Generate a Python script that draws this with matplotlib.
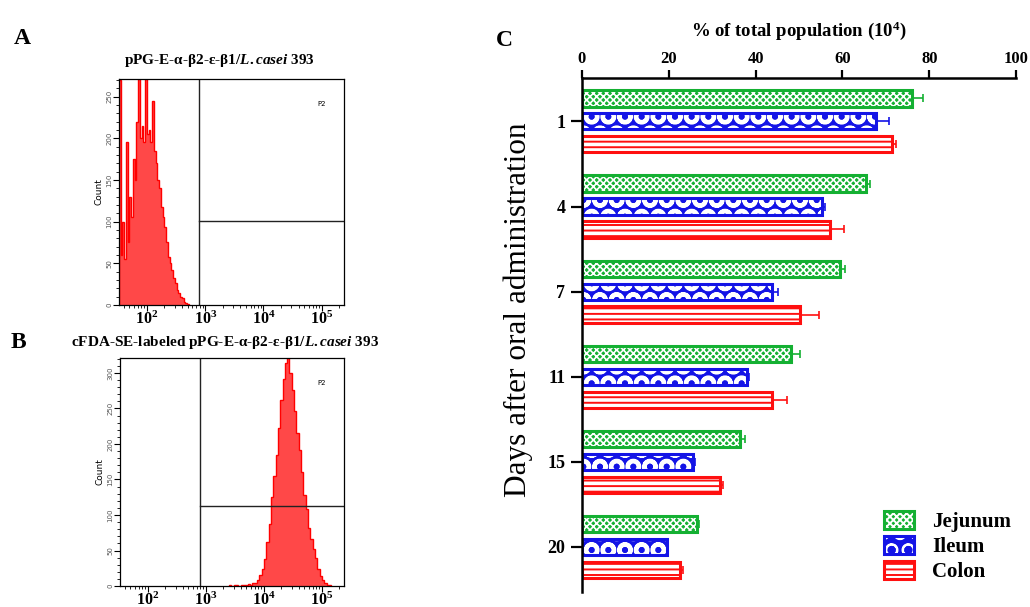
import numpy as np
import matplotlib.pyplot as plt
from matplotlib.patches import Patch
from matplotlib.legend_handler import HandlerTuple
from matplotlib.ticker import FixedLocator, MultipleLocator, LogLocator, FuncFormatter, NullFormatter

plt.rcParams['font.family'] = ['Liberation Serif', 'DejaVu Serif']
plt.rcParams['mathtext.fontset'] = 'custom'
plt.rcParams['mathtext.rm'] = 'Liberation Serif:bold'
plt.rcParams['mathtext.it'] = 'Liberation Serif:italic:bold'
plt.rcParams['mathtext.bf'] = 'Liberation Serif:bold'
plt.rcParams['hatch.linewidth'] = 1.4

# panel C: bar data
days = ['1', '4', '7', '11', '15', '20']
jejunum = [76.0, 65.4, 59.4, 48.1, 36.3, 26.4]
jejunum_err = [2.5, 1.0, 1.1, 2.2, 1.3, 0.5]
ileum = [67.8, 55.4, 43.7, 38.0, 25.6, 19.5]
ileum_err = [3.0, 0.5, 1.5, 0.5, 0.4, 0.4]
colon = [71.4, 57.2, 50.3, 43.7, 31.8, 22.6]
colon_err = [1.0, 3.2, 4.2, 3.5, 0.6, 0.6]

# panel A: histogram counts, log10 bins starting at 1.52, width 0.03
a_start, a_step = 1.52, 0.03
a_counts = [270, 60, 100, 55, 195, 75, 130, 105, 175, 150,
            220, 272, 200, 215, 195, 272, 205, 210, 195, 245,
            185, 170, 150, 140, 117, 105, 93, 75, 58, 50,
            42, 32, 26, 18, 14, 10, 8, 4, 2, 1]
a_gate_x, a_gate_y = 10 ** 2.89, 101

# panel B: histogram counts, log10 bins starting at 3.40, width 0.04
b_start, b_step = 3.40, 0.04
b_counts = [1, 0, 2, 1, 0, 1, 2, 1, 3, 2,
            4, 5, 8, 15, 24, 38, 62, 88, 125, 155,
            185, 222, 262, 292, 314, 322, 300, 276, 246, 216,
            192, 160, 128, 108, 82, 66, 52, 40, 24, 14,
            9, 5, 2, 1]
b_low_counts = [30]
b_gate_x, b_gate_y = 10 ** 2.90, 112

fig = plt.figure(figsize=(10.3, 6.07), dpi=100)

xlo, xhi = 10 ** 1.52, 10 ** 5.38


def flow_panel(rect, counts, start, step, ymax, ystep, gate_x, gate_y):
    ax = fig.add_axes(rect)
    edges = 10 ** (start + step * np.arange(len(counts) + 1))
    ax.stairs(counts, edges, fill=True, color='#ff4848', baseline=0)
    ax.stairs(counts, edges, color='red', lw=1.0, baseline=0)
    ax.set_xscale('log')
    ax.set_xlim(xlo, xhi)
    ax.set_ylim(0, ymax)
    ax.axvline(gate_x, color='#222222', lw=1.0)
    ax.plot([gate_x, xhi], [gate_y, gate_y], color='#222222', lw=1.0)
    ax.xaxis.set_major_locator(FixedLocator([1e2, 1e3, 1e4, 1e5]))
    ax.xaxis.set_major_formatter(FuncFormatter(lambda v, p: r'$10^{%d}$' % round(np.log10(v))))
    ax.xaxis.set_minor_locator(LogLocator(base=10, subs=np.arange(2, 10)))
    ax.xaxis.set_minor_formatter(NullFormatter())
    ax.yaxis.set_major_locator(MultipleLocator(ystep))
    ax.yaxis.set_minor_locator(MultipleLocator(10))
    ax.tick_params(axis='x', which='major', labelsize=11.5, length=4, pad=0)
    ax.tick_params(axis='x', which='minor', length=2.5)
    ax.tick_params(axis='y', which='major', labelsize=5, labelrotation=90, length=4,
                   labelcolor='#555555', pad=1)
    ax.tick_params(axis='y', which='minor', length=2)
    for lab in ax.get_yticklabels():
        lab.set_family('DejaVu Sans')
        lab.set_va('center')
    ax.set_ylabel('Count', fontsize=6.5, family='DejaVu Sans', labelpad=2)
    for s in ax.spines.values():
        s.set_linewidth(0.9)
    ax.text(0.90, 0.89, 'P2', transform=ax.transAxes, fontsize=5,
            family='DejaVu Sans', ha='center', va='center')
    return ax


axA = flow_panel([0.1155, 0.4975, 0.2184, 0.3723], a_counts, a_start, a_step,
                 271, 50, a_gate_x, a_gate_y)
axB = flow_panel([0.1165, 0.0345, 0.2175, 0.3757], b_counts, b_start, b_step,
                 321, 50, b_gate_x, b_gate_y)
low_edges = 10 ** np.array([1.52, 1.545])
axB.stairs(b_low_counts, low_edges, fill=True, color='#ff4848', baseline=0)

fig.text(0.2126, 0.900, r'pPG-E-α-β2-ε-β1/$\mathit{L.casei}$ 393', fontsize=11,
         fontweight='bold', ha='center', va='center')
fig.text(0.2180, 0.435, r'cFDA-SE-labeled pPG-E-α-β2-ε-β1/$\mathit{L.casei}$ 393',
         fontsize=11, fontweight='bold', ha='center', va='center')
fig.text(0.022, 0.937, 'A', fontsize=17, fontweight='bold', ha='center', va='center')
fig.text(0.018, 0.435, 'B', fontsize=17, fontweight='bold', ha='center', va='center')
fig.text(0.490, 0.934, 'C', fontsize=17, fontweight='bold', ha='center', va='center')

# panel C
axC = fig.add_axes([0.565, 0.0247, 0.4215, 0.8468])
y = np.arange(len(days))
off, h = 0.27, 0.19
green, blue, red = '#14b032', '#1414e6', '#ff1010'
series = [
    ('Jejunum', jejunum, jejunum_err, green, green, 'white', 'xxxxx', 1.2, -off),
    ('Ileum', ileum, ileum_err, blue, blue, 'white', 'O', 3.0, 0.0),
    ('Colon', colon, colon_err, red, 'white', red, '---', 1.4, off),
]


def set_hatch_lw(patch, lw):
    if hasattr(patch, 'set_hatch_linewidth'):
        patch.set_hatch_linewidth(lw)


handles = []
for name, vals, err, col, face, hcol, hatch, hlw, dy in series:
    bars = axC.barh(y + dy, vals, height=h, color=face, edgecolor=hcol, hatch=hatch, linewidth=0)
    for b in bars:
        set_hatch_lw(b, hlw)
    axC.barh(y + dy, vals, height=h, fill=False, edgecolor=col, linewidth=2.2)
    axC.errorbar(vals, y + dy, xerr=[np.zeros(len(vals)), err], fmt='none',
                 ecolor=col, elinewidth=1.2, capsize=3, capthick=1.2)
    fill_patch = Patch(facecolor=face, edgecolor=hcol, hatch=hatch, linewidth=0)
    set_hatch_lw(fill_patch, hlw)
    handles.append((fill_patch, Patch(fill=False, edgecolor=col, linewidth=2.2)))

axC.set_xlim(0, 100)
axC.set_ylim(len(days) - 0.47, -0.51)
axC.xaxis.tick_top()
axC.xaxis.set_label_position('top')
axC.set_xticks(np.arange(0, 101, 20))
axC.set_yticks(y)
axC.set_yticklabels(days)
for lab in axC.get_xticklabels() + axC.get_yticklabels():
    lab.set_fontweight('bold')
axC.tick_params(axis='x', labelsize=12, width=1.6, length=6, pad=2)
axC.tick_params(axis='y', labelsize=13, width=1.6, length=8, pad=4)
axC.set_xlabel(r'% of total population (10$^4$)', fontsize=13.5, fontweight='bold', labelpad=11)
axC.spines['right'].set_visible(False)
axC.spines['bottom'].set_visible(False)
axC.spines['left'].set_linewidth(1.8)
axC.spines['top'].set_linewidth(1.8)

fig.text(0.503, 0.489, 'Days after oral administration', fontsize=22.5, rotation=90,
         ha='center', va='center')

axC.legend(handles, [s[0] for s in series], handler_map={tuple: HandlerTuple(ndivide=1)},
           loc='lower right', bbox_to_anchor=(1.0, 0.01), bbox_transform=fig.transFigure,
           frameon=False, prop={'weight': 'bold', 'size': 15}, handlelength=1.4,
           handleheight=0.9, labelspacing=0.2, handletextpad=0.9)

fig.savefig('out.png', dpi=100)
